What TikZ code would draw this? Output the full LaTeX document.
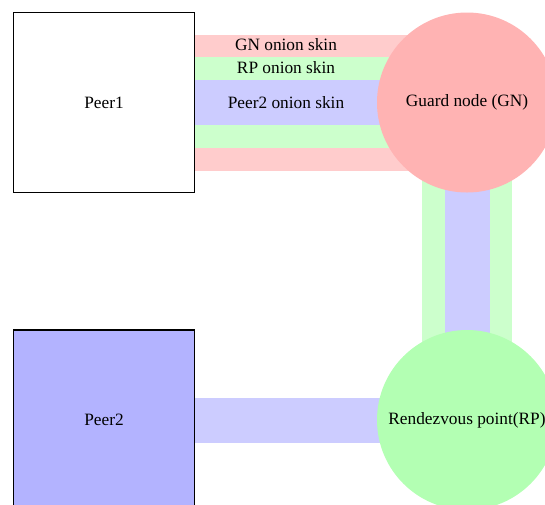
\documentclass[tikz,border=0pt]{standalone}
\usepackage{fontspec}
\setmainfont{Liberation Serif}
\pgfdeclarelayer{background}
\pgfsetlayers{background,main}
\definecolor{skinred}{HTML}{FFCCCC}
\definecolor{skingreen}{HTML}{CCFFCC}
\definecolor{skinblue}{HTML}{CCCCFF}
\definecolor{gnfill}{HTML}{FFB3B3}
\definecolor{rpfill}{HTML}{B3FFB3}
\definecolor{peerfill}{HTML}{B3B3FF}
\begin{document}
\begin{tikzpicture}[x=1pt,y=-1pt,
  every node/.style={font=\fontsize{17.3}{20}\selectfont, text=black},
  peer/.style={draw=black, line width=1.9pt, minimum width=181pt, minimum height=180pt, inner sep=0pt},
  relay/.style={circle, minimum size=180pt, inner sep=0pt, draw=none},
  skin/.style={line cap=butt},
  skinlabel/.style={inner sep=0pt}]
\useasboundingbox (0,0) rectangle (545,504);
\clip (0,0) rectangle (545,504);

% hosts
\node[peer, fill=white] (peer1) at (104,102.5) {Peer1};
\node[peer, fill=peerfill] (peer2) at (104,420) {Peer2};

% relays
\node[relay, fill=gnfill] (gn) at (467,102.5) {Guard node (GN)};
\node[relay, fill=rpfill] (rp) at (467,420) {Rendezvous point(RP)};

% layered onion skins along the circuit
\begin{pgfonlayer}{background}
  \draw[skin, skinred,   line width=136pt] (peer1.east) -- (gn.center);
  \draw[skin, skingreen, line width=91pt]  (peer1.east) -- (gn.center);
  \draw[skin, skinblue,  line width=45pt]  (peer1.east) -- (gn.center);
  \draw[skin, skingreen, line width=90pt]  (gn.center) -- (rp.center);
  \draw[skin, skinblue,  line width=45pt]  (gn.center) -- (rp.center);
  \draw[skin, skinblue,  line width=45pt]  (peer2.east) -- (rp.center);
\end{pgfonlayer}

% skin labels
\node[skinlabel] (lgn) at (286,45) {GN onion skin};
\node[skinlabel] (lrp) at (286,68) {RP onion skin};
\node[skinlabel] (lp2) at (286,103) {Peer2 onion skin};
\end{tikzpicture}
\end{document}
